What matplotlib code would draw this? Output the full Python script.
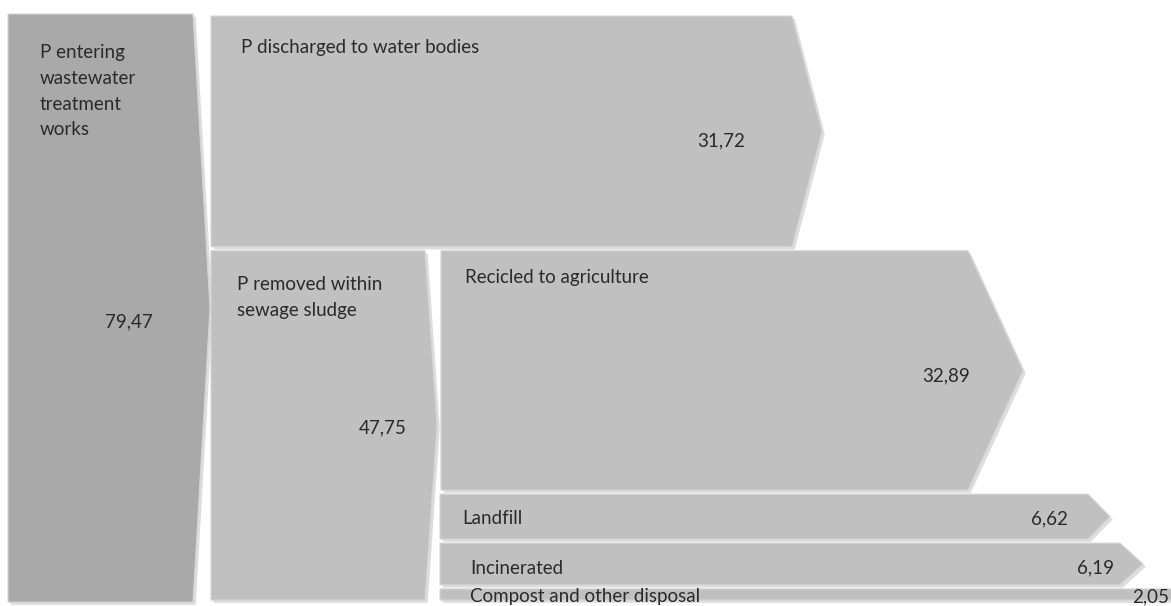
"""Phosphorus flow through wastewater treatment works - block arrow diagram."""

import matplotlib
matplotlib.use('Agg')
import matplotlib.pyplot as plt
import matplotlib.patheffects as pe
from matplotlib.patches import Polygon

# ── Data ─────────────────────────────────────────────────────────────────────
LABELS = [
    'P entering\nwastewater\ntreatment\nworks',
    'P discharged to water bodies',
    'P removed within\nsewage sludge',
    'Recicled to agriculture',
    'Landfill',
    'Incinerated',
    'Compost and other disposal',
]
VALUES = [79.47, 31.72, 47.75, 32.89, 6.62, 6.19, 2.05]
VALUE_TEXT = ['79,47', '31,72', '47,75', '32,89', '6,62', '6,19', '2,05']
COLUMN = [0, 1, 1, 2, 2, 2, 2]

# ── Layout (pixels along x, per box) ─────────────────────────────────────────
X_LEFT = [8, 211, 211, 441, 440, 440, 440]
X_RIGHT = [193, 792, 425, 968, 1088, 1120, 1210]
TIP = [17, 30, 12, 55, 22, 23, 20]
FACE = ['#a9a9a9'] + ['#c0c0c0'] * 6
# label placement: (dx px, first-line centre below box top in px, or None -> middle)
LABEL_POS = [(32, 38), (30, 31), (26, 33), (24, 26), (22, None), (30, None), (30, None)]
LABEL_DY_MID = [0, 0, 0, 0, 2, 4, 2]
VALUE_DX = [0, 47, 18, -2, 20, 6, 2]      # right edge of value text from box right
VALUE_DY = [14, 10, 2, 5, 2, 4, 2]
GAP = 0.55
PX_PER_UNIT = 7.4
TOP_PX = 14
FS = 13.5

TEXT_COLOR = '#2a2a2a'
FONT = 'Lato'

fig = plt.figure(figsize=(11.71, 6.06), dpi=100)
ax = fig.add_axes([0, 0, 1, 1])
ax.set_xlim(0, 1171)
ax.set_ylim((606 - TOP_PX) / PX_PER_UNIT, -TOP_PX / PX_PER_UNIT)
ax.axis('off')

# stack boxes inside each column from the values
col_cursor = {0: 0.0, 1: 0.0, 2: VALUES[1]}
tops = []
for v, c in zip(VALUES, COLUMN):
    tops.append(col_cursor[c])
    col_cursor[c] += v

for i, (v, top) in enumerate(zip(VALUES, tops)):
    y0 = top + (GAP / 2 if i else 0)
    y1 = top + v - (GAP / 2 if COLUMN[i] else 0)
    mid = (y0 + y1) / 2
    xl, xr, tip = X_LEFT[i], X_RIGHT[i], TIP[i]
    poly = Polygon([(xl, y0), (xr, y0), (xr + tip, mid), (xr, y1), (xl, y1)],
                   closed=True, facecolor=FACE[i], edgecolor='#d4d4d4',
                   linewidth=0.8, zorder=2)
    poly.set_path_effects([pe.SimplePatchShadow(offset=(2, -2), shadow_rgbFace='#cfcfcf', alpha=0.7),
                           pe.Normal()])
    ax.add_patch(poly)

    dx, dy = LABEL_POS[i]
    if dy is None:
        ax.annotate(LABELS[i], xy=(xl, mid), xytext=(dx, -LABEL_DY_MID[i]),
                    textcoords='offset pixels', ha='left', va='center',
                    fontsize=FS, family=FONT, color=TEXT_COLOR, zorder=3)
    else:
        ax.annotate(LABELS[i], xy=(xl, y0), xytext=(dx, -(dy - 8)),
                    textcoords='offset pixels', ha='left', va='top',
                    fontsize=FS, family=FONT, color=TEXT_COLOR,
                    linespacing=1.63, zorder=3)

    if i == 0:
        ax.annotate(VALUE_TEXT[i], xy=((xl + xr) / 2, mid), xytext=(28, -VALUE_DY[i]),
                    textcoords='offset pixels', ha='center', va='center',
                    fontsize=FS, family=FONT, color=TEXT_COLOR, zorder=3)
    else:
        ax.annotate(VALUE_TEXT[i], xy=(min(xr, 1171), mid), xytext=(-VALUE_DX[i], -VALUE_DY[i]),
                    textcoords='offset pixels', ha='right', va='center',
                    fontsize=FS, family=FONT, color=TEXT_COLOR, zorder=3)

fig.savefig('out.png', dpi=100, facecolor='white')
